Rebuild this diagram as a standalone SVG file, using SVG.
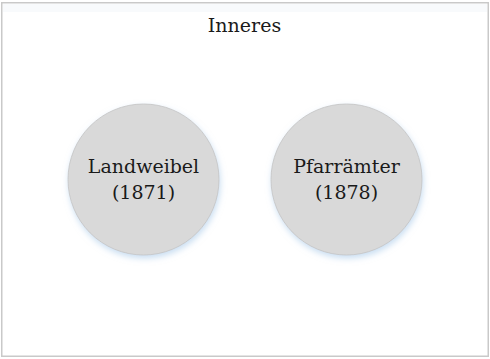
<svg xmlns="http://www.w3.org/2000/svg" width="490" height="359" viewBox="0 0 490 359">
  <defs>
    <filter id="glow" x="-20%" y="-20%" width="140%" height="140%">
      <feDropShadow dx="1" dy="3" stdDeviation="3" flood-color="#9dc3e6" flood-opacity="0.55"/>
    </filter>
    <filter id="inner" x="-5%" y="-5%" width="110%" height="110%">
      <feDropShadow dx="0" dy="2" stdDeviation="3" flood-color="#dfe8f3" flood-opacity="0.7"/>
    </filter>
  </defs>
  <style>
    .frame { fill: #ffffff; stroke: #c9c9c9; stroke-width: 1.5; }
    .node { fill: #d9d9d9; stroke: #c4c4c4; stroke-width: 0.8; filter: url(#glow); }
    text { font-family: "DejaVu Serif", "Liberation Serif", serif; font-size: 19px; fill: #1a1a1a; text-anchor: middle; }
  </style>
  <rect width="490" height="359" fill="#ffffff"/>
  <g id="container">
    <rect class="frame" x="1.75" y="2.75" width="486.5" height="353.5"/>
    <rect x="3" y="4" width="484" height="8" fill="#f3f6fa" opacity="0.6"/>
    <text x="244.5" y="31.5">Inneres</text>
  </g>
  <g id="connectors"></g>
  <g id="node-landweibel">
    <circle class="node" cx="143.5" cy="179.5" r="75.5"/>
    <text x="143.5" y="172.5">Landweibel</text>
    <text x="143.5" y="199">(1871)</text>
  </g>
  <g id="node-pfarraemter">
    <circle class="node" cx="346.5" cy="179.5" r="75.5"/>
    <text x="346.5" y="172.5">Pfarrämter</text>
    <text x="346.5" y="199">(1878)</text>
  </g>
</svg>
